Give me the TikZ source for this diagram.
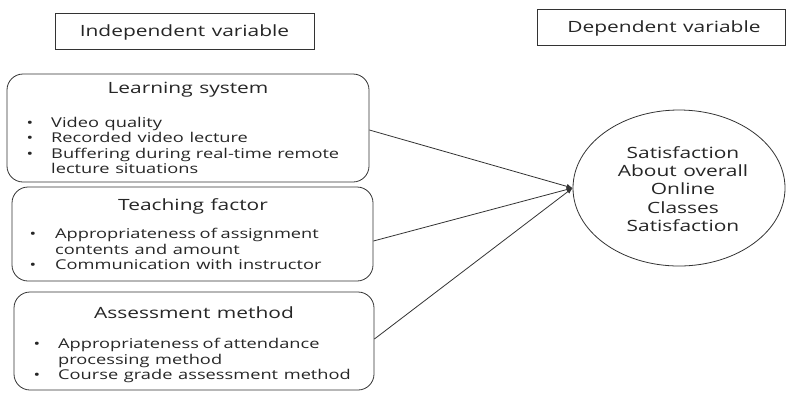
\documentclass[tikz,border=0pt]{standalone}
\usepackage{fontspec}
\setmainfont{Open Sans}[FakeStretch=1.35,WordSpace=1.2]
\usetikzlibrary{arrows.meta,shapes.geometric}
\begin{document}
\begin{tikzpicture}[x=1pt,y=-1pt,
  frame/.style={draw=black!80,line width=0.8pt,inner sep=0pt},
  catbox/.style={frame,rounded corners=16pt},
  head/.style={anchor=base,inner sep=0pt,font=\fontsize{15.5}{17}\selectfont,text=black!85},
  item/.style={anchor=base west,inner sep=0pt,font=\fontsize{13.5}{15}\selectfont,text=black!85},
  dot/.style={anchor=base,inner sep=0pt,font=\fontsize{13}{14}\selectfont,text=black!85},
  link/.style={draw=black!80,line width=0.8pt,-{Latex[length=6pt,width=5pt]}}]
\useasboundingbox (0,0) rectangle (786,392);
% headers
\node[frame,minimum width=259pt,minimum height=36pt] (indep) at (184.5,31) {};
\node[head] (indept) at (184.5,36.5) {Independent variable};
\node[frame,minimum width=248pt,minimum height=36pt] (dep) at (661,27) {};
\node[head] (dept) at (664,32.5) {Dependent variable};
% learning system
\node[catbox,minimum width=362pt,minimum height=108pt] (learn) at (188,128) {};
\node[head] (learnt) at (188,93) {Learning system};
\node[dot] (lb1) at (30,127) {•};
\node[item] (li1) at (51,127) {Video quality};
\node[dot] (lb2) at (30,142) {•};
\node[item] (li2) at (51,142) {Recorded video lecture};
\node[dot] (lb3) at (30,158) {•};
\node[item] (li3) at (51,158) {\makebox[288pt][s]{Buffering during real-time remote}};
\node[item] (li4) at (51,173) {lecture situations};
% teaching factor
\node[catbox,minimum width=361pt,minimum height=94pt] (teach) at (192.5,234) {};
\node[head] (teacht) at (193,210) {Teaching factor};
\node[dot] (tb1) at (33,238) {•};
\node[item] (ti1) at (55,238) {\makebox[259pt][s]{Appropriateness of assignment}};
\node[item] (ti2) at (55,254) {contents and amount};
\node[dot] (tb2) at (33,269) {•};
\node[item] (ti3) at (55,269) {Communication with instructor};
% assessment method
\node[catbox,minimum width=360pt,minimum height=98pt] (assess) at (194,341) {};
\node[head] (assesst) at (194,318) {Assessment method};
\node[dot] (ab1) at (37,348) {•};
\node[item] (ai1) at (58,348) {\makebox[260pt][s]{Appropriateness of attendance}};
\node[item] (ai2) at (58,364) {processing method};
\node[dot] (ab2) at (37,379) {•};
\node[item] (ai3) at (58,379) {Course grade assessment method};
% dependent ellipse
\node[frame,ellipse,minimum width=212pt,minimum height=156pt] (sat) at (679,188) {};
\node[align=center,inner sep=0pt,font=\fontsize{15.5}{18.2}\selectfont,text=black!85] (satt) at (683,189)
  {Satisfaction\\About overall\\Online\\Classes\\Satisfaction};
% connectors
\draw[link] ([yshift=-2pt]learn.east) -- (sat.west);
\draw[link] ([yshift=-7pt]teach.east) -- (sat.west);
\draw[link] ([yshift=2pt]assess.east) -- (sat.west);
\end{tikzpicture}
\end{document}
